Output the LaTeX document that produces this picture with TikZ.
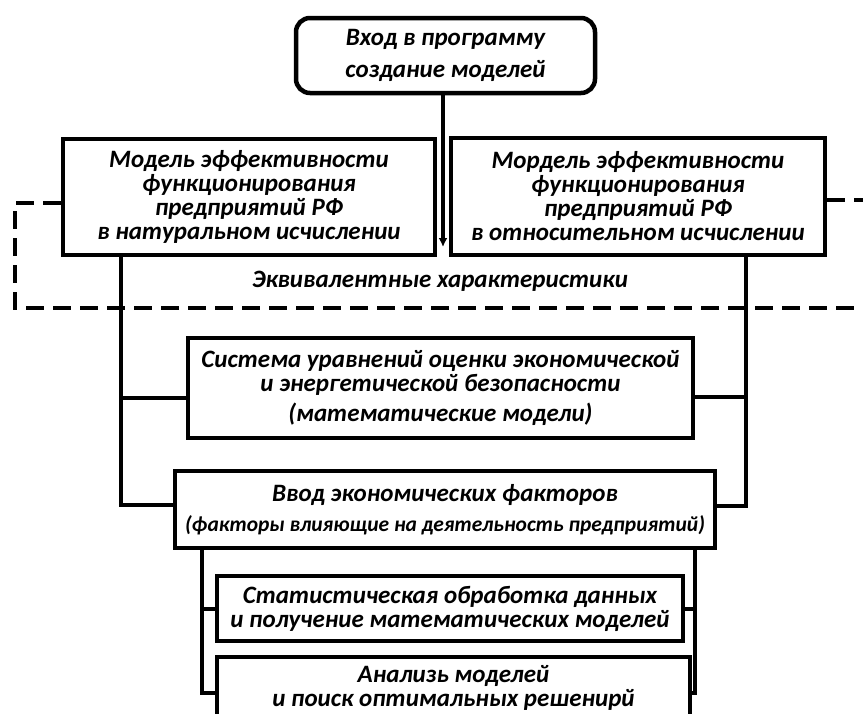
\documentclass[tikz,border=0pt]{standalone}
\usepackage{fontspec}
\setmainfont{Carlito}
\usetikzlibrary{arrows.meta}

\begin{document}
\begin{tikzpicture}[x=1pt,y=-1pt,line width=4.5pt,
    box/.style={draw,rectangle,align=center,inner sep=0pt,
      font=\fontsize{25}{24}\selectfont\bfseries\itshape},
    roundbox/.style={box,rounded corners=14pt},
    link/.style={line width=4.5pt},
    equiv/.style={line width=4.5pt,dash pattern=on 18pt off 9pt}]
      % \draw[help lines](0,0) grid[step=50] (863,713);
      \clip (0,0) rectangle (863,713);

      \draw (445.5,55.5) node[roundbox,minimum width=299pt,minimum height=75pt] (entry)
        {Вход в программу\\[8pt]создание моделей};
      \draw (249,197) node[box,minimum width=372pt,minimum height=116pt] (natural)
        {Модель эффективности\\функционирования\\предприятий РФ\\в натуральном исчислении};
      \draw (638,196.5) node[box,minimum width=374pt,minimum height=117pt] (relative)
        {Мордель эффективности\\функционирования\\предприятий РФ\\в относительном исчислении};
      \draw (440,281) node[font=\fontsize{25}{24}\selectfont\bfseries\itshape] (equivtext)
        {Эквивалентные характеристики};
      \draw (440.5,388) node[box,minimum width=505pt,minimum height=100pt] (system)
        {Система уравнений оценки экономической\\и энергетической безопасности\\[6pt](математические модели)};
      \draw (445,509.5) node[box,minimum width=540pt,minimum height=77pt] (factors)
        {Ввод экономических факторов\\[6pt]{\fontsize{21.5}{24}\selectfont(факторы влияющие на деятельность предприятий)}};
      \draw (450,608.5) node[box,minimum width=466pt,minimum height=65pt] (stat)
        {Статистическая обработка данных\\и получение математических моделей};
      \draw (453.5,688) node[box,minimum width=473pt,minimum height=62pt] (analysis)
        {Анализь моделей\\и поиск оптимальных решенирй};

      \coordinate (gap) at (443,247);
      \draw[link,-{Latex[length=9pt,width=9pt]}] (entry.south -| gap) -- (gap);

      % equivalent characteristics frame
      \draw[equiv] (natural.west |- 0,203) -- (15,203) -- (15,308) -- (870,308);
      \draw[equiv] (relative.east |- 0,200) -- (870,200);

      % left and right bus
      \draw[link] (natural.south -| 121,0) -- (121,505) -- (factors.west |- 0,505);
      \draw[link] (121,398) -- (system.west |- 0,398);
      \draw[link] (relative.south -| 746,0) -- (746,506) -- (factors.east |- 0,506);
      \draw[link] (746,397) -- (system.east |- 0,397);

      % inner bus
      \draw[link] (factors.south -| 202,0) -- (202,693) -- (analysis.west |- 0,693);
      \draw[link] (202,609) -- (stat.west |- 0,609);
      \draw[link] (factors.south -| 695,0) -- (695,693) -- (analysis.east |- 0,693);
      \draw[link] (695,609) -- (stat.east |- 0,609);
\end{tikzpicture}
\end{document}
